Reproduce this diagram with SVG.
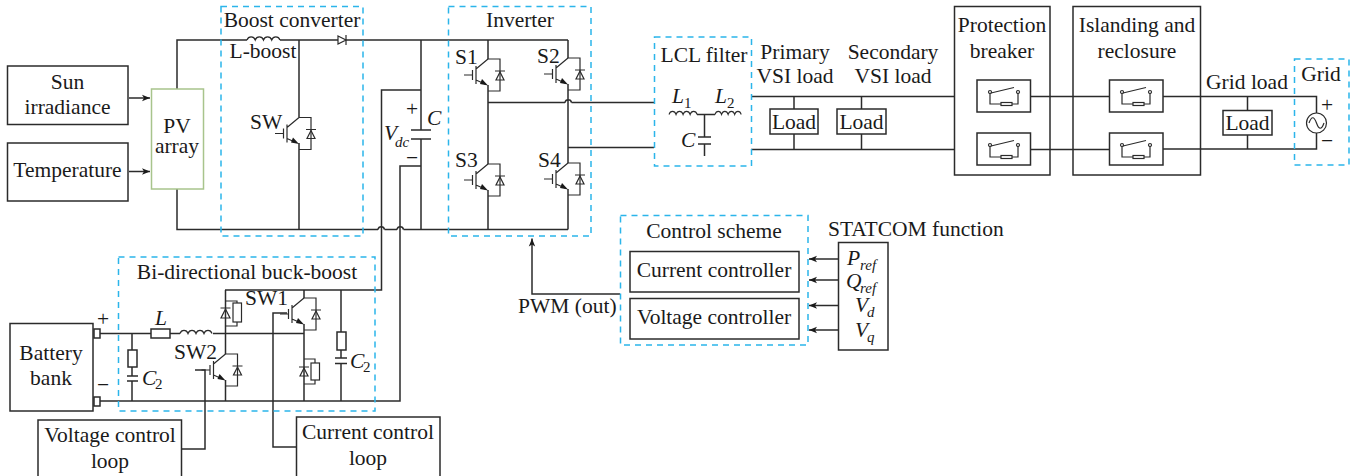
<svg xmlns="http://www.w3.org/2000/svg" width="1367" height="476" viewBox="0 0 1367 476">
<style>
text{font-family:"Liberation Serif","Times New Roman",serif;font-size:21.5px;fill:#1a1a1a}
.c{text-anchor:middle}
.i{font-style:italic}
.s{font-size:15px;font-style:italic}
.n{font-size:15px}
.w{fill:none;stroke:#2b2b2b;stroke-width:1.5}
.t{fill:none;stroke:#2b2b2b;stroke-width:1.2}
.b{fill:#fff;stroke:#2b2b2b;stroke-width:1.5}
.d{fill:none;stroke:#2bb5ea;stroke-width:1.5;stroke-dasharray:6 5}
</style>
<defs>
<marker id="ah" markerWidth="9" markerHeight="8" refX="8" refY="4" orient="auto" markerUnits="userSpaceOnUse"><path d="M0,0.800L8,4L0,7.200L2,4z" fill="#1a1a1a"/></marker>
<g id="igbt">
<path class="t" d="M0,-16H12V16H0M-12,-6L0,-16M-12,5L-3,9M-12,-9V9M-15.500,-5V5M-24,0H-15.500"/>
<path d="M-6,4L0,10.500L-8,9z" fill="#1a1a1a"/>
<path class="t" d="M8,5H16L12,-3zM7,-4H17"/>
</g>
<g id="sw">
<path class="t" d="M-14,12V23H-3M8,23H14V12M-13,12L10,6.500"/>
<circle class="t" cx="-14" cy="11" r="1.500"/><circle class="t" cx="14" cy="11" r="1.500"/>
<rect class="t" x="-3" y="21.500" width="11" height="3"/>
</g>
<path id="ind" class="t" d="M0,0a4.300,4.800 0 0 1 8,0a4.300,4.800 0 0 1 8,0a4.300,4.800 0 0 1 8,0a4.300,4.800 0 0 1 8,0"/>
</defs>
<g id="connectors">
<path class="w" d="M247,40H177V89M177,189V229.500H378M384.500,229.500H397M403.500,229.500H568M280,40H338M346,40H568"/>
<path class="w" d="M378,229.500a3.300,3.300 0 0 1 6.500,0M397,229.500a3.300,3.300 0 0 1 6.500,0"/>
<path class="w" d="M299,40V117.500M299,143V229.500M421,40V130M421,139V229.500M421,90H381.500V290H225M421,166H400V401H97"/>
<path class="w" d="M488,40V59M488,85V164M488,190V229.500M568,40V58M568,84V163M568,189V229.500M488,102.500H565M571.500,102.500H654M565,102.500a3.300,3.300 0 0 1 6.500,0M568,147.500H654"/>
<path class="w" d="M751,96.500H955M751,149.500H955M1030,96.500H1109M1030,149.500H1109M1163,96.500H1316.500V113M1163,149H1316.500V133"/>
<path class="w" d="M794,96.500V109M794,134V149.500M861.500,96.500V109M861.500,134V149.500M1247.500,96.500V110M1247.500,135V149"/>
<path class="w" d="M129,98H150" marker-end="url(#ah)"/>
<path class="w" d="M129,171.500H150" marker-end="url(#ah)"/>
<path class="w" d="M620,294H532V238.500" marker-end="url(#ah)"/>
<path class="w" d="M838,259H809" marker-end="url(#ah)"/>
<path class="w" d="M838,280H809" marker-end="url(#ah)"/>
<path class="w" d="M838,305.500H809" marker-end="url(#ah)"/>
<path class="w" d="M838,330H809" marker-end="url(#ah)"/>
<path class="w" d="M100,333.500H151M170,333.500H180M213,333.500H304M132,333.500V350M132,367V376M132,381V401M225.500,290V354M225.500,380V401M304,290V298M304,324V401M341,290V332M341,350V358M341,363.500V401"/>
<path class="w" d="M182,449H205V370H195M296,447H273V313H287"/>
</g>
<g id="boost-converter">
<rect class="d" x="221" y="6.500" width="142" height="229.500"/>
<text class="c" x="292" y="27">Boost converter</text>
<text class="c" x="263" y="58">L-boost</text>
<text x="250" y="129">SW</text>
<use href="#ind" transform="translate(247,40) scale(1.030,1)"/>
<path class="t" d="M338,36L346,40L338,44zM346,35V45"/>
<use href="#igbt" x="299" y="133.500"/>
</g>
<g id="dc-capacitor">
<path class="w" d="M411,130H431M411,139H431"/>
<text class="c" x="412" y="116">+</text>
<text class="c" x="412" y="165">−</text>
<text class="i" x="427" y="125">C</text>
<text class="i" x="384" y="140">V</text>
<text class="s" x="395" y="147">dc</text>
</g>
<g id="sun"><rect class="b" x="7.500" y="66" width="120.500" height="58.500"/><text class="c" x="67.500" y="89">Sun</text><text class="c" x="67.500" y="114">irradiance</text></g>
<g id="temperature"><rect class="b" x="7.500" y="143" width="120.500" height="58"/><text class="c" x="67.500" y="177">Temperature</text></g>
<g id="pv"><rect x="151.500" y="89" width="52" height="100" fill="#fff" stroke="#a8c48c" stroke-width="1.500"/><text class="c" x="177" y="133">PV</text><text class="c" x="177" y="153">array</text></g>
<g id="inverter">
<rect class="d" x="448.500" y="6.500" width="142.500" height="229.500"/>
<text class="c" x="520" y="27">Inverter</text>
<text x="455" y="64">S1</text><text x="537" y="63">S2</text><text x="455" y="167">S3</text><text x="538" y="167">S4</text>
<use href="#igbt" x="488" y="75"/><use href="#igbt" x="568" y="74"/><use href="#igbt" x="488" y="180"/><use href="#igbt" x="568" y="179"/>
</g>
<g id="lcl-filter">
<rect class="d" x="654.500" y="37" width="97" height="129"/>
<text class="c" x="704" y="62">LCL filter</text>
<use href="#ind" transform="translate(669,114.500) scale(.88,1)"/>
<use href="#ind" transform="translate(715,114.500) scale(.82,1)"/>
<path class="w" d="M697,114.500H715M704.500,114.500V137M698,137H711M698,144H711M704.500,144V156"/>
<text class="i" x="672" y="103">L</text><text class="n" x="684" y="108">1</text>
<text class="i" x="715" y="103">L</text><text class="n" x="727" y="108">2</text>
<text class="i" x="681" y="147">C</text>
</g>
<g id="primary-load"><text class="c" x="795" y="59">Primary</text><text class="c" x="795" y="83">VSI load</text><rect class="b" x="770" y="109" width="48" height="25"/><text class="c" x="794" y="129">Load</text></g>
<g id="secondary-load"><text class="c" x="893" y="59">Secondary</text><text class="c" x="893" y="83">VSI load</text><rect class="b" x="837" y="109" width="49" height="25"/><text class="c" x="861.500" y="129">Load</text></g>
<g id="protection-breaker"><rect class="b" x="954.500" y="6.500" width="95.500" height="168.500"/><text class="c" x="1002" y="32">Protection</text><text class="c" x="1002" y="58">breaker</text>
<path class="w" d="M1030,96.500H1050M1030,149.500H1050"/>
<rect class="b" x="977" y="80" width="53.500" height="32"/><rect class="b" x="977" y="133" width="53.500" height="32"/><use href="#sw" x="1004" y="81"/><use href="#sw" x="1004" y="134"/></g>
<g id="islanding-reclosure"><rect class="b" x="1073" y="6.500" width="127.500" height="168.500"/><text class="c" x="1137" y="32">Islanding and</text><text class="c" x="1137" y="58">reclosure</text>
<path class="w" d="M1073,96.500H1110M1073,149.500H1110M1163,96.500H1200M1163,149H1200"/>
<rect class="b" x="1109.500" y="80" width="53.500" height="32"/><rect class="b" x="1109.500" y="133" width="53.500" height="32"/><use href="#sw" x="1136" y="81"/><use href="#sw" x="1136" y="134"/></g>
<g id="grid-load"><text class="c" x="1247" y="89">Grid load</text><rect class="b" x="1223" y="110.500" width="49" height="24.500"/><text class="c" x="1247.500" y="130">Load</text></g>
<g id="grid"><rect class="d" x="1294.500" y="59" width="54.500" height="106"/><text class="c" x="1321" y="81">Grid</text>
<circle class="t" cx="1316.500" cy="123" r="10"/><path class="t" d="M1309,123c2.500,-7 5,-7 7.500,0s5,7 7.500,0"/>
<text class="c" x="1327" y="112">+</text><text class="c" x="1327" y="148">−</text></g>
<g id="control-scheme"><rect class="d" x="620.500" y="215.500" width="187.500" height="129.500"/><text class="c" x="714" y="238">Control scheme</text>
<rect class="b" x="630" y="251.500" width="169" height="40.500"/><text class="c" x="714" y="277">Current controller</text>
<rect class="b" x="630" y="298.500" width="169" height="40.500"/><text class="c" x="714" y="324">Voltage controller</text></g>
<g id="statcom"><text x="828" y="236">STATCOM function</text><rect class="b" x="838.500" y="242.500" width="49.500" height="107.500"/>
<text class="i" x="847" y="265">P</text><text class="s" x="860" y="270">ref</text>
<text class="i" x="846" y="288">Q</text><text class="s" x="860" y="293">ref</text>
<text class="i" x="855" y="312">V</text><text class="s" x="867" y="317">d</text>
<text class="i" x="855" y="337">V</text><text class="s" x="867" y="342">q</text></g>
<g id="pwm"><text x="518" y="313">PWM (out)</text></g>
<g id="buck-boost"><rect class="d" x="118.500" y="257" width="256.500" height="154"/>
<text class="c" x="247" y="279">Bi-directional buck-boost</text>
<rect class="b" x="151" y="329" width="19" height="9"/><use href="#ind" x="180" y="333.500"/>
<text class="i" x="155" y="325">L</text>
<rect class="b" x="128" y="350" width="9" height="17"/><path class="w" d="M127,376H138M127,381H138"/>
<text class="i" x="142" y="385">C</text><text class="n" x="155" y="389">2</text>
<rect class="b" x="337" y="332" width="9" height="18"/><path class="w" d="M335,358H347M335,363.500H347"/>
<text class="i" x="350" y="368">C</text><text class="n" x="363" y="372">2</text>
<text x="245" y="305">SW1</text><text x="174" y="359">SW2</text>
<path class="t" d="M225.500,301H237V303M237,322V326H225.500M221,318H230L225.500,309zM220.500,308H230.500"/>
<rect class="t" x="233" y="303" width="8.500" height="19"/>
<path class="t" d="M304,359H315V363M315,380V384H304M300,376H308L304,368zM299,367H309"/><rect class="t" x="311" y="363" width="8.500" height="17"/>
<use href="#igbt" x="304" y="314"/>
<use href="#igbt" x="225.500" y="370"/>
</g>
<g id="battery"><rect class="b" x="10" y="323.500" width="83" height="87.500"/><text class="c" x="51" y="360">Battery</text><text class="c" x="51" y="385">bank</text>
<rect class="b" x="94" y="329" width="6" height="9"/><rect class="b" x="94" y="397" width="6" height="9"/>
<text class="c" x="103" y="326">+</text><text class="c" x="103" y="392">−</text></g>
<g id="voltage-loop"><path class="b" d="M38,476V420H181.500V476"/><text class="c" x="110" y="442">Voltage control</text><text class="c" x="110" y="468">loop</text></g>
<g id="current-loop"><path class="b" d="M296.500,476V417H440V476"/><text class="c" x="368" y="439">Current control</text><text class="c" x="368" y="465">loop</text></g>
</svg>
